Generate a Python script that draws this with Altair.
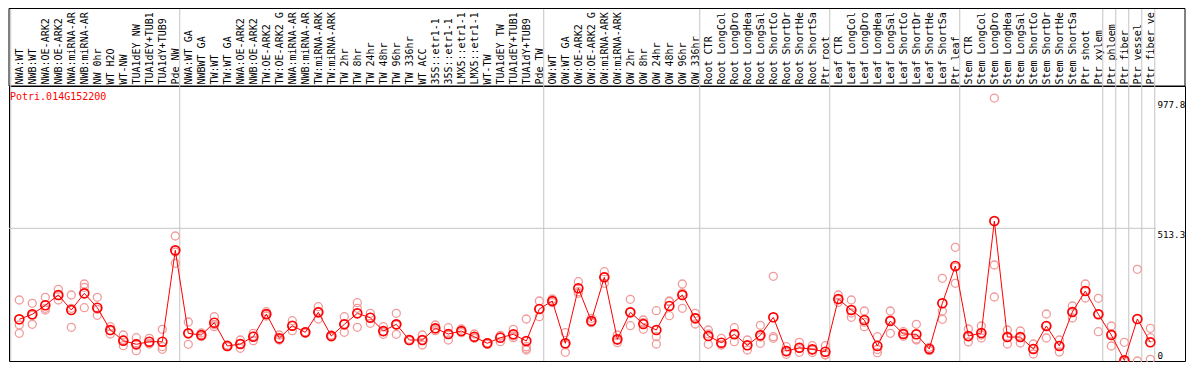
import json
import altair as alt
import pandas as pd

gene = "Potri.014G152200"

categories = [
    "NWA:WT", "NWB:WT", "NWA:OE-ARK2", "NWB:OE-ARK2", "NWA:miRNA-ARK2", "NWB:miRNA-ARK2",
    "NW 0hr", "WT H2O", "WT-NW", "TUA1dEY NW", "TUA1dEY+TUB15 NW", "TUA1dY+TUB9 NW", "Pde NW",
    "NWA:WT GA", "NWBWT GA", "TW:WT", "TW:WT GA", "NWA:OE-ARK2 GA", "NWB:OE-ARK2 GA",
    "TW:OE-ARK2", "TW:OE-ARK2 GA", "NWA:miRNA-ARK2 GA", "NWB:miRNA-ARK2 GA", "TW:miRNA-ARK2",
    "TW:miRNA-ARK2 GA", "TW 2hr", "TW 8hr", "TW 24hr", "TW 48hr", "TW 96hr", "TW 336hr",
    "WT ACC", "35S::etr1-1 H2O", "35S::etr1-1 ACC", "LMX5::etr1-1 H2O", "LMX5::etr1-1 ACC",
    "WT-TW", "TUA1dEY TW", "TUA1dEY+TUB15 TW", "TUA1dY+TUB9 TW", "Pde TW",
    "OW:WT", "OW:WT GA", "OW:OE-ARK2", "OW:OE-ARK2 GA", "OW:miRNA-ARK2", "OW:miRNA-ARK2 GA",
    "OW 2hr", "OW 8hr", "OW 24hr", "OW 48hr", "OW 96hr", "OW 336hr",
    "Root CTR", "Root LongCold", "Root LongDrought", "Root LongHeat", "Root LongSalt",
    "Root ShortCold", "Root ShortDrought", "Root ShortHeat", "Root ShortSalt", "Ptr root",
    "Leaf CTR", "Leaf LongCold", "Leaf LongDrought", "Leaf LongHeat", "Leaf LongSalt",
    "Leaf ShortCold", "Leaf ShortDrought", "Leaf ShortHeat", "Leaf ShortSalt", "Ptr leaf",
    "Stem CTR", "Stem LongCold", "Stem LongDrought", "Stem LongHeat", "Stem LongSalt",
    "Stem ShortCold", "Stem ShortDrought", "Stem ShortHeat", "Stem ShortSalt", "Ptr shoot",
    "Ptr xylem", "Ptr phloem", "Ptr fiber", "Ptr vessel", "Ptr fiber vessel",
]

means = [
    188.9, 206.8, 238.9, 275.6, 222.1, 281.6, 230.3, 150.8, 112.7, 99.8, 109.1, 109.1, 434.9,
    139.0, 133.0, 176.8, 93.8, 100.9, 126.9, 207.8, 121.2, 166.1, 142.6, 213.9, 129.4, 171.1,
    210.3, 194.6, 147.2, 171.1, 115.1, 115.1, 156.9, 136.5, 147.2, 126.9, 103.4, 123.3, 135.5,
    111.6, 225.7,
    254.2, 103.4, 299.5, 182.9, 338.7, 117.6, 213.9, 172.2, 150.8, 236.4, 275.6, 192.5,
    129.4, 105.5, 135.5, 96.3, 131.9, 196.1, 75.9, 87.7, 82.0, 73.4,
    261.3, 222.1, 186.4, 93.8, 182.9, 136.5, 135.5, 83.1, 246.0, 379.0,
    129.4, 140.1, 539.4, 125.8, 125.8, 83.1, 165.1, 93.8, 215.0, 289.8, 206.8,
    133.0, 42.8, 190.0, 107.0,
]

replicates = [
    [257.7, 168.6, 139.0], [246.0, 171.1, 203.3], [267.4, 222.1, 228.2], [295.9, 257.7, 273.2],
    [275.6, 160.4, 228.2], [314.8, 303.0, 230.3], [267.4, 203.2, 224.6], [162.6, 136.5, 148.3],
    [133.0, 94.8, 115.1], [123.3, 77.0, 103.4], [121.2, 103.4, 100.9], [153.3, 91.3, 82.0],
    [485.9, 428.9, 388.6],
    [179.3, 99.8, 139.0], [126.9, 140.1, 132.0], [198.2, 162.6, 169.6], [91.3, 97.3, 92.8],
    [115.1, 85.6, 102.0], [139.0, 112.7, 129.0], [216.0, 200.7, 207.0], [133.0, 115.1, 116.0],
    [184.0, 148.3, 166.0], [144.7, 140.1, 143.0], [233.9, 190.0, 217.0], [133.0, 125.8, 129.4],
    [198.2, 142.6, 172.0], [248.1, 228.2, 160.4], [210.3, 174.7, 196.0], [162.6, 135.5, 143.7],
    [210.3, 135.5, 168.6], [117.6, 112.7, 115.0], [133.0, 97.3, 115.0], [168.6, 148.3, 154.4],
    [159.0, 115.1, 136.0], [154.4, 141.2, 146.0], [136.5, 121.2, 123.3], [105.5, 99.8, 104.5],
    [129.4, 109.1, 131.2], [153.3, 123.3, 129.4], [190.0, 91.3, 85.0, 79.5], [254.2, 198.2, 225.0],
    [261.3, 248.1, 254.0], [141.2, 71.3, 98.0], [323.0, 281.6, 287.3], [192.5, 176.8, 180.0],
    [358.6, 317.3, 340.0], [133.0, 105.5, 114.0], [260.2, 166.1, 215.0], [186.4, 153.3, 177.0],
    [219.6, 126.9, 100.9], [251.7, 201.8, 254.2], [314.8, 228.2, 282.7], [210.3, 172.2, 193.6],
    [150.8, 99.8, 136.5], [121.2, 97.3, 98.0], [159.0, 109.1, 138.0], [115.1, 79.5, 94.8],
    [167.6, 103.4, 125.8], [342.2, 126.9, 121.2], [91.3, 64.2, 72.4], [107.0, 71.3, 85.6],
    [94.8, 70.6, 79.5], [94.8, 61.7, 63.5],
    [275.6, 249.6, 258.8], [257.7, 196.1, 211.4], [218.5, 162.6, 178.3], [126.9, 69.9, 81.3],
    [218.5, 139.0, 186.4], [144.7, 128.3, 136.5], [171.1, 115.1, 118.7], [89.1, 77.0, 83.0],
    [335.1, 218.5, 188.9], [445.6, 317.3, 375.0],
    [154.4, 108.0, 125.8], [165.1, 122.3, 133.0], [977.8, 382.5, 268.4], [150.8, 100.9, 125.0],
    [147.2, 104.5, 126.0], [100.9, 65.2, 83.0], [207.8, 122.3, 165.0], [115.1, 72.4, 94.0],
    [236.4, 193.6, 215.0], [314.8, 264.9, 290.0], [263.8, 144.7, 208.0],
    [165.1, 93.8, 137.0], [107.0, 10.7, 8.2], [367.2, 14.3], [156.9, 123.3, 46.3],
]

group_starts = [0, 13, 41, 53, 63, 73, 84, 85, 86, 87, 88]
y_ticks = [0, 513.3, 977.8]
grid_value = 513.3

# ---- layout / style ----
W, H = 1176, 275
PAD_TOP = 78
MAX_CHARS = 12
MONO = "DejaVu Sans Mono"
REP_COLOR = "#f09a9a"
MEAN_COLOR = "#ff0000"
GRID_COLOR = "#c4c4c4"

rows = []
for i, (cat, reps) in enumerate(zip(categories, replicates)):
    for r in reps:
        rows.append({"idx": i, "cat": cat, "value": r})
rep_df = pd.DataFrame(rows)
mean_df = pd.DataFrame({"idx": list(range(len(categories))), "cat": categories, "value": means})
bound_df = pd.DataFrame({"pos": [b - 0.66 for b in group_starts]})

label_expr = (
    "substring([" + ",".join(json.dumps(c) for c in categories) + "][datum.value], 0, "
    + str(MAX_CHARS) + ")"
)

x_scale = alt.Scale(domain=[-0.792, 89.665], nice=False, zero=False)
y_scale = alt.Scale(domain=[40.3, 1020.7], nice=False, zero=False, clamp=True)

x_axis = alt.Axis(
    orient="top", values=list(range(len(categories))), labelExpr=label_expr,
    labelAngle=270, labelAlign="left", labelBaseline="middle", labelPadding=2,
    ticks=False, domain=False, grid=False, labelOverlap=False, labelFlush=False,
    labelFont=MONO, labelFontSize=10, labelColor="black", labelLimit=300, title=None,
)
y_axis = alt.Axis(
    orient="right", values=y_ticks, offset=-28, labelPadding=0, ticks=False, domain=False,
    grid=False, labelOverlap=False, labelFlush=False, labelFont=MONO, labelFontSize=9.2,
    labelColor="black", title=None,
    labelExpr="datum.value == 0 ? '0' : format(datum.value, '.1f')",
    labelOffset={"condition": {"test": "datum.value == 0", "value": -6}, "value": 6},
)


def xenc(field):
    return alt.X(f"{field}:Q", scale=x_scale, axis=x_axis, title=None)


def yenc(field):
    return alt.Y(f"{field}:Q", scale=y_scale, axis=y_axis, title=None)


frame = alt.Chart(alt.Data(values=[{}])).mark_rect(
    fillOpacity=0, stroke="black", strokeWidth=1
).encode(x=alt.value(0), x2=alt.value(W), y=alt.value(-PAD_TOP + 0.5), y2=alt.value(0))

vrules = alt.Chart(bound_df).mark_rule(color=GRID_COLOR, strokeWidth=1).encode(
    x=xenc("pos"), y=alt.value(-PAD_TOP + 1), y2=alt.value(H)
)

hrule = alt.Chart(pd.DataFrame({"v": [grid_value]})).mark_rule(
    color=GRID_COLOR, strokeWidth=1
).encode(y=yenc("v"), x=alt.value(0), x2=alt.value(1147))

rep_pts = alt.Chart(rep_df).mark_point(
    shape="circle", filled=False, size=64, stroke=REP_COLOR, strokeWidth=1.3, opacity=1
).encode(x=xenc("idx"), y=yenc("value"))

line = alt.Chart(mean_df).mark_line(color=MEAN_COLOR, strokeWidth=1).encode(
    x=xenc("idx"), y=yenc("value"), order="idx:Q"
)

mean_pts = alt.Chart(mean_df).mark_point(
    shape="circle", filled=False, size=80, stroke=MEAN_COLOR, strokeWidth=1.7, opacity=1
).encode(x=xenc("idx"), y=yenc("value"))

title_txt = alt.Chart(pd.DataFrame({"gene": [gene]})).mark_text(
    align="left", baseline="middle", font=MONO, fontSize=10, color="#ff0000"
).encode(text="gene:N", x=alt.value(1), y=alt.value(11))

chart = alt.layer(frame, vrules, hrule, rep_pts, line, mean_pts, title_txt).properties(
    width=W, height=H,
    padding={"left": 1, "top": PAD_TOP, "right": 1, "bottom": 1},
    autosize=alt.AutoSizeParams(type="none"),
    background="white",
).configure_view(stroke="black", strokeWidth=1)

chart.save("out.html", embed_options={"renderer": "svg", "actions": False})
